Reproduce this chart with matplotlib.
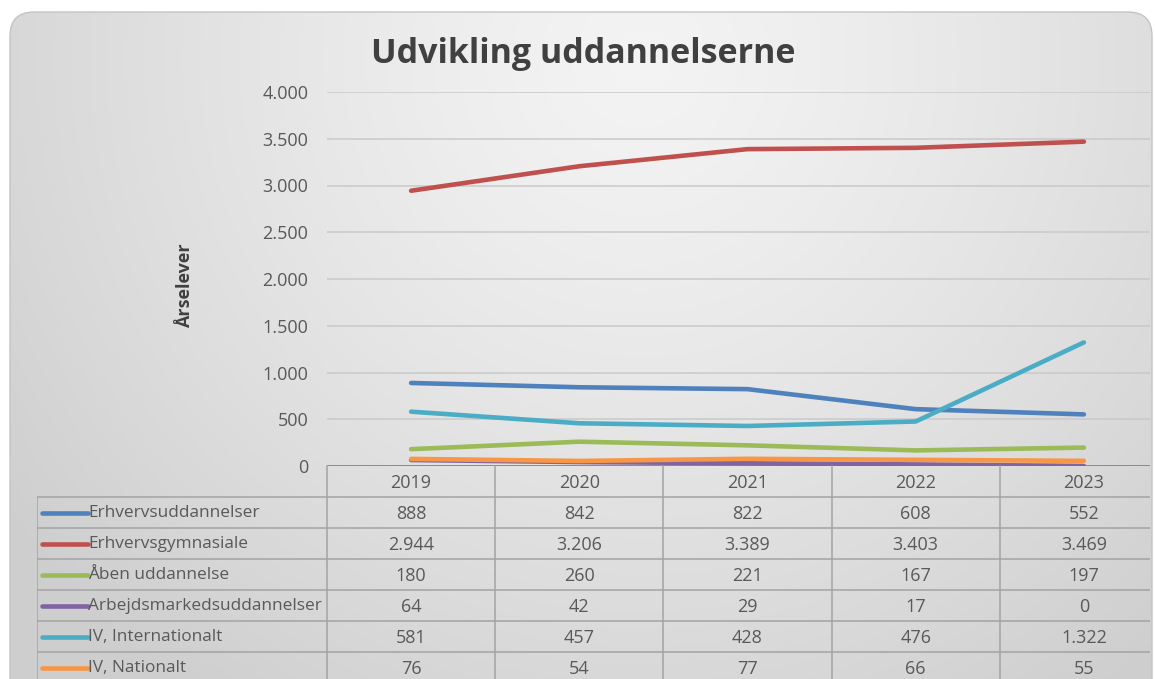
import numpy as np
import matplotlib
matplotlib.use("Agg")
import matplotlib.pyplot as plt
from matplotlib.patches import FancyBboxPatch
from matplotlib.ticker import FuncFormatter

years = ["2019", "2020", "2021", "2022", "2023"]
series_names = ["Erhvervsuddannelser", "Erhvervsgymnasiale", "Åben uddannelse",
                "Arbejdsmarkedsuddannelser", "IV, Internationalt", "IV, Nationalt"]
erhvervsuddannelser = [888, 842, 822, 608, 552]
erhvervsgymnasiale = [2944, 3206, 3389, 3403, 3469]
aaben_uddannelse = [180, 260, 221, 167, 197]
arbejdsmarkedsuddannelser = [64, 42, 29, 17, 0]
iv_internationalt = [581, 457, 428, 476, 1322]
iv_nationalt = [76, 54, 77, 66, 55]
series_values = [erhvervsuddannelser, erhvervsgymnasiale, aaben_uddannelse,
                 arbejdsmarkedsuddannelser, iv_internationalt, iv_nationalt]
colors = ["#4F81BD", "#C0504D", "#9BBB59", "#8064A2", "#4BACC6", "#F79646"]
yticks = [0, 500, 1000, 1500, 2000, 2500, 3000, 3500, 4000]

FONT = "Open Sans"
W, H = 1155, 679
fig = plt.figure(figsize=(W / 100, H / 100), dpi=100)
fig.patch.set_facecolor("white")

def fx(x):
    return x / W

def fy(y):
    return 1 - y / H

# background with rounded frame and radial gradient
bg = fig.add_axes([0, 0, 1, 1])
bg.set_xlim(0, W)
bg.set_ylim(H, 0)
bg.axis("off")
yy, xx = np.mgrid[0:H, 0:W]
d = np.sqrt(((xx - 640) / 780.0) ** 2 + ((yy - 60) / 780.0) ** 2)
d = np.clip(d, 0, 1)
light, dark = 0.955, 0.81
img = light + (dark - light) * d ** 1.3
frame = FancyBboxPatch((10, 12), 1142, 700, boxstyle="round,pad=0,rounding_size=24",
                       facecolor="none", edgecolor="#c4c4c4", lw=1.0,
                       transform=bg.transData, zorder=2)
bg.add_patch(frame)
im = bg.imshow(np.dstack([img, img, img]), extent=(0, W, H, 0), zorder=1, aspect="auto")
im.set_clip_path(frame)

# main plot axes
col_w = 168.2
left_px, right_px = 327, 1150
top_px, bot_px = 92, 466
ax = fig.add_axes([fx(left_px), fy(bot_px), fx(right_px - left_px), (bot_px - top_px) / H])
ax.patch.set_alpha(0)
xs = np.arange(len(years))
ax.set_xlim(-0.5, -0.5 + (right_px - left_px) / col_w)
ax.set_ylim(0, 4000)
for s in ax.spines.values():
    s.set_visible(False)
ax.set_xticks([])
ax.set_yticks(yticks)
ax.yaxis.set_major_formatter(FuncFormatter(lambda v, p: f"{int(v):,}".replace(",", ".")))
ax.tick_params(axis="y", length=0, pad=13.5, labelsize=13, labelcolor="#595959")
for lab in ax.get_yticklabels():
    lab.set_fontfamily(FONT)
ax.grid(axis="y", color="#c9c9c9", lw=1.1)
ax.set_axisbelow(True)
ax.axhline(0, color="#7f7f7f", lw=1.2, zorder=1)
for vals, c in zip(series_values, colors):
    ax.plot(xs, vals, color=c, lw=3.3, solid_capstyle="round", solid_joinstyle="round", zorder=3)

fig.text(fx(583), fy(54), "Udvikling uddannelserne", ha="center", va="center",
         fontsize=24.5, fontweight="bold", color="#404040", family=FONT)
fig.text(fx(185), fy(286), "Årselever", ha="center", va="center", rotation=90,
         fontsize=13, fontweight="bold", color="#404040", family=FONT)

# data table
lab_left = 37
tab = fig.add_axes([fx(lab_left), 0, fx(right_px - lab_left), fy(bot_px)])
tab.patch.set_alpha(0)
tab.axis("off")
x0 = -0.5 - (left_px - lab_left) / col_w
tab.set_xlim(x0, -0.5 + (right_px - left_px) / col_w)
row_h = 31.0
nrows = (H - bot_px) / row_h
tab.set_ylim(nrows, 0)
lc = "#a3a3a3"
lw_t = 1.1
ncols = len(years)
n_series = len(series_names)
for i in range(ncols + 1):
    tab.plot([i - 0.5, i - 0.5], [0, n_series + 1.2], color=lc, lw=lw_t, clip_on=False)
tab.plot([x0, x0], [1, n_series + 1.2], color=lc, lw=lw_t)
for r in range(1, n_series + 1):
    tab.plot([x0, ncols], [r, r], color=lc, lw=lw_t)
num_fs = 13
lab_fs = 12.4
num_off = 6.4 / row_h   # half digit height, in row units
lab_off = 4.7 / row_h   # half x-height, in row units
for i, yv in enumerate(years):
    tab.text(i, 0.5 + num_off, yv, ha="center", va="baseline", fontsize=num_fs,
             color="#595959", family=FONT)
key_w = 46 / col_w
for r, (name, vals, c) in enumerate(zip(series_names, series_values, colors), start=1):
    tab.plot([x0 + 5 / col_w, x0 + 5 / col_w + key_w], [r + 0.5, r + 0.5], color=c, lw=3.3,
             solid_capstyle="round")
    tab.text(x0 + 51 / col_w, r + 0.5 + lab_off, name, ha="left", va="baseline",
             fontsize=lab_fs, color="#595959", family=FONT)
    for i, v in enumerate(vals):
        tab.text(i, r + 0.5 + num_off, f"{v:,}".replace(",", "."), ha="center", va="baseline",
                 fontsize=num_fs, color="#595959", family=FONT)

fig.savefig("out.png", dpi=100)
